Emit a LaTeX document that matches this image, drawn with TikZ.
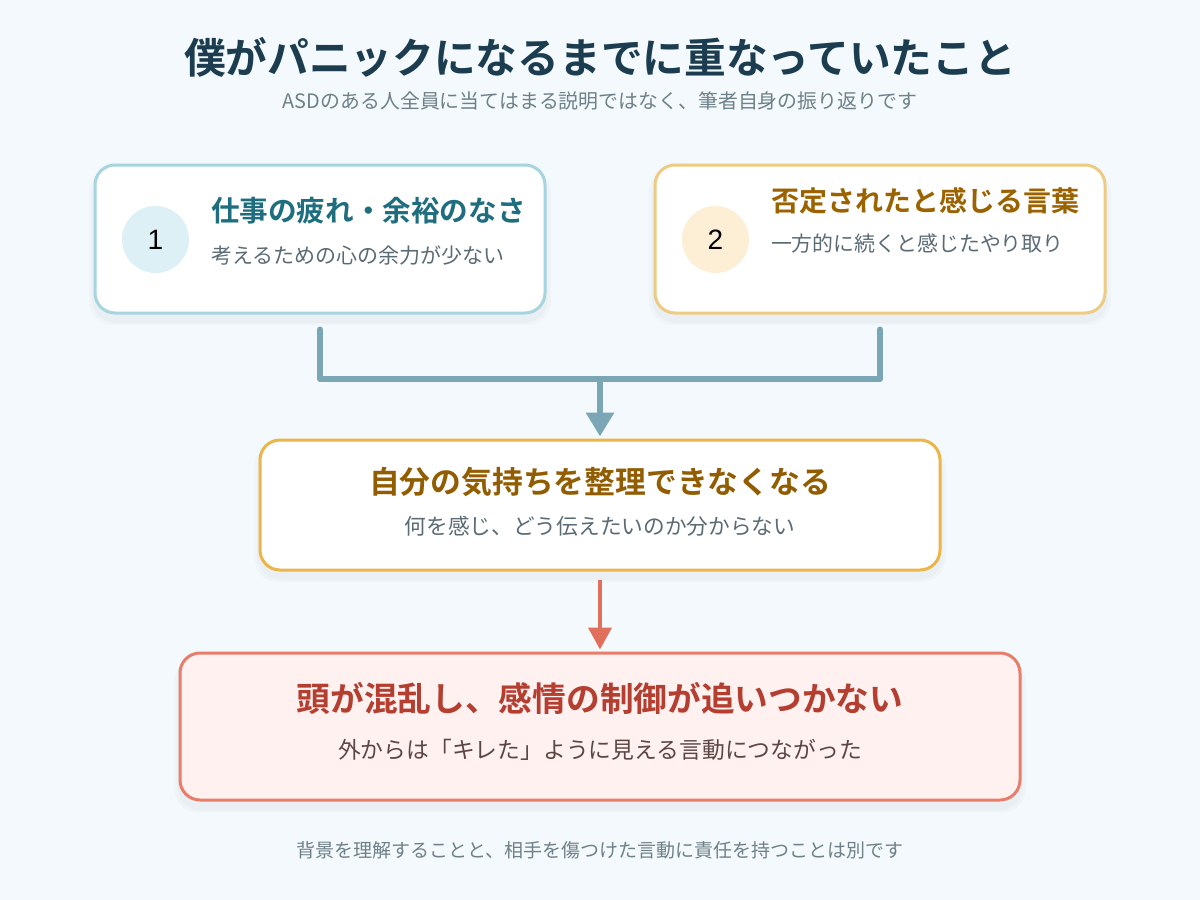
\documentclass[tikz,border=0pt]{standalone}
\usepackage{fontspec}
\setmainfont{Noto Sans CJK JP}[BoldFont={Noto Sans CJK JP Bold}]
\newfontfamily\numfont{Liberation Sans}
\usetikzlibrary{arrows.meta}
\definecolor{bgc}{HTML}{F3F9FC}
\definecolor{titlec}{HTML}{1C3D4F}
\definecolor{subc}{HTML}{6E8088}
\definecolor{bodyc}{HTML}{5B6B74}
\definecolor{oneborder}{HTML}{A6D5E0}
\definecolor{onetitle}{HTML}{1E6E80}
\definecolor{onecircle}{HTML}{DCF0F5}
\definecolor{twoborder}{HTML}{EECB82}
\definecolor{twotitle}{HTML}{9B6300}
\definecolor{twocircle}{HTML}{FDEFD5}
\definecolor{connc}{HTML}{7BA6B5}
\definecolor{threeborder}{HTML}{EBB547}
\definecolor{threetitle}{HTML}{925C00}
\definecolor{arrowtwo}{HTML}{E0705C}
\definecolor{fourfill}{HTML}{FEF1F0}
\definecolor{fourborder}{HTML}{E77E6C}
\definecolor{fourtitle}{HTML}{B43E30}
\definecolor{fourbody}{HTML}{5C4644}
\tikzset{
  card/.style={rectangle, rounded corners=20pt, line width=3pt, fill=white, inner sep=0pt},
  shade box/.style={rectangle, rounded corners=24pt, fill=black, fill opacity=0.018, draw=none, inner sep=0pt},
  txt/.style={inner sep=0pt, outer sep=0pt},
  badge/.style={circle, inner sep=0pt, minimum size=67pt},
  conn/.style={line width=6pt, draw=connc, line cap=round, line join=round},
}
\begin{document}
\begin{tikzpicture}[x=1pt,y=-1pt]
\fill[bgc] (0,0) rectangle (1200,900);
\useasboundingbox (0,0) rectangle (1200,900);

% title
\node[txt, text=titlec, font=\fontsize{41.7}{46}\selectfont\bfseries] (title) at (600,57) {僕がパニックになるまでに重なっていたこと};
\node[txt, text=subc, font=\fontsize{19.9}{23}\selectfont] (subtitle) at (600,101) {ASDのある人全員に当てはまる説明ではなく、筆者自身の振り返りです};

% shadows
\foreach \dx/\dy in {0/0, 6/4} {
\node[shade box, minimum width={456pt+\dx pt}, minimum height={152pt+\dy pt}] at (320,247) {};
\node[shade box, minimum width={456pt+\dx pt}, minimum height={152pt+\dy pt}] at (880,247) {};
\node[shade box, minimum width={686pt+\dx pt}, minimum height={134pt+\dy pt}] at (600,513) {};
\node[shade box, minimum width={846pt+\dx pt}, minimum height={151pt+\dy pt}] at (600,735) {};
}

% box 1
\node[card, draw=oneborder, minimum width=450pt, minimum height=148pt] (b1) at (320,239) {};
\node[badge, fill=onecircle] (c1) at (155.5,239.5) {\numfont\fontsize{28}{30}\selectfont 1};
\node[txt, anchor=west, text=onetitle, font=\fontsize{28.6}{32}\selectfont\bfseries] (t1) at (211,211) {仕事の疲れ・余裕のなさ};
\node[txt, anchor=west, text=bodyc, font=\fontsize{21}{24}\selectfont] (s1) at (211,255) {考えるための心の余力が少ない};

% box 2
\node[card, draw=twoborder, minimum width=450pt, minimum height=148pt] (b2) at (880,239) {};
\node[badge, fill=twocircle] (c2) at (715.5,239.5) {\numfont\fontsize{28}{30}\selectfont 2};
\node[txt, anchor=west, text=twotitle, font=\fontsize{28}{32}\selectfont\bfseries] (t2) at (771,201) {否定されたと感じる言葉};
\node[txt, anchor=west, text=bodyc, font=\fontsize{20.9}{24}\selectfont] (s2) at (771,244) {一方的に続くと感じたやり取り};

% box 3
\node[card, draw=threeborder, minimum width=680pt, minimum height=130pt] (b3) at (600,505) {};
\node[txt, text=threetitle, font=\fontsize{30.8}{34}\selectfont\bfseries] (t3) at (600,482) {自分の気持ちを整理できなくなる};
\node[txt, text=bodyc, font=\fontsize{21.7}{25}\selectfont] (s3) at (600,526) {何を感じ、どう伝えたいのか分からない};

% box 4
\node[card, draw=fourborder, fill=fourfill, minimum width=840pt, minimum height=147pt] (b4) at (600,726.5) {};
\node[txt, text=fourtitle, font=\fontsize{33.7}{38}\selectfont\bfseries] (t4) at (600,698) {頭が混乱し、感情の制御が追いつかない};
\node[txt, text=fourbody, font=\fontsize{22.8}{26}\selectfont] (s4) at (600,750) {外からは「キレた」ように見える言動につながった};

% footer
\node[txt, text=subc, font=\fontsize{19}{22}\selectfont] (foot) at (600,850) {背景を理解することと、相手を傷つけた言動に責任を持つことは別です};

% connectors
\coordinate (j) at (600,379);
\draw[conn] ([yshift=-15pt]b1.south) |- (j) -| ([yshift=-15pt]b2.south);
\draw[conn, line cap=butt, -{Triangle[length=24pt,width=27pt]}] (j) -- ([yshift=2pt]b3.north);
\draw[line width=4pt, draw=arrowtwo, -{Triangle[length=22pt,width=23pt]}] ([yshift=-8pt]b3.south) -- ([yshift=2pt]b4.north);
\end{tikzpicture}
\end{document}
